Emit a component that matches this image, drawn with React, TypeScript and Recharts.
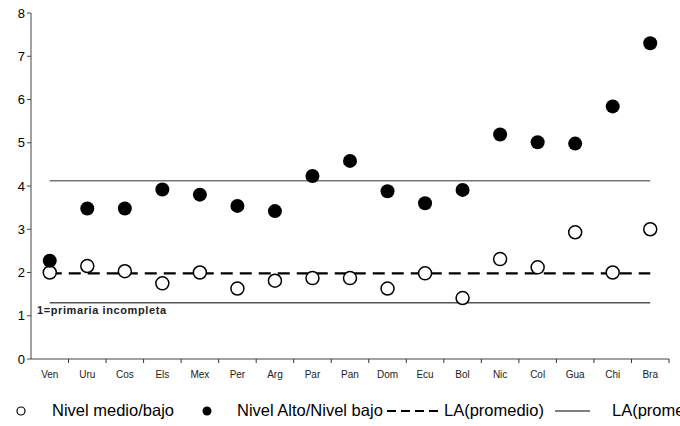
import React from "react"
import { ComposedChart, Scatter, XAxis, YAxis, ReferenceLine } from "recharts"

const paises = ["Ven", "Uru", "Cos", "Els", "Mex", "Per", "Arg", "Par", "Pan", "Dom", "Ecu", "Bol", "Nic", "Col", "Gua", "Chi", "Bra"]
const nivelMedioBajo = [2.0, 2.15, 2.03, 1.75, 2.0, 1.63, 1.81, 1.87, 1.87, 1.63, 1.98, 1.41, 2.31, 2.12, 2.93, 2.0, 3.0]
const nivelAltoBajo = [2.27, 3.48, 3.48, 3.92, 3.8, 3.54, 3.42, 4.23, 4.58, 3.88, 3.6, 3.91, 5.19, 5.01, 4.98, 5.84, 7.3]
const yTicks = [0, 1, 2, 3, 4, 5, 6, 7, 8]
const laPromedioMedio = 1.98
const laPromedioAlto = 4.12
const primariaIncompleta = 1.3

const data = paises.map((p, i) => ({ pais: p, medio: nivelMedioBajo[i], alto: nivelAltoBajo[i] }))

const font = "'Liberation Sans', Arial, sans-serif"

function XTick(props: any) {
  const { x, y, payload } = props
  const half = 638 / paises.length / 2
  return (
    <g>
      <line x1={x + half} x2={x + half} y1={y - 8} y2={y - 4} stroke="#333" />
      <text x={x} y={y + 11} textAnchor="middle" fontSize={10} fill="#222" fontFamily={font}>
        {payload.value}
      </text>
    </g>
  )
}

const openDot = (p: any) => <circle cx={p.cx} cy={p.cy} r={6.5} fill="#fff" stroke="#000" strokeWidth={1.5} />
const filledDot = (p: any) => <circle cx={p.cx} cy={p.cy} r={7} fill="#000" />

export default function App() {
  return (
    <div style={{ position: "fixed", left: 0, top: 0, width: 680, height: 426, background: "#fff", overflow: "hidden" }}>
      <ComposedChart width={680} height={426} data={data} margin={{ top: 13, right: 11, bottom: 37, left: 0 }}>
        <XAxis dataKey="pais" scale="band" height={30} tick={<XTick />} tickLine={false} axisLine={{ stroke: "#444" }} interval={0} />
        <YAxis
          domain={[0, 8]}
          ticks={yTicks}
          width={31}
          tickSize={4}
          tick={{ fontSize: 13, fill: "#000", fontFamily: font }}
          tickLine={{ stroke: "#444" }}
          axisLine={{ stroke: "#444" }}
        />
        <ReferenceLine segment={[{ x: "Ven", y: laPromedioAlto }, { x: "Bra", y: laPromedioAlto }]} stroke="#777" strokeWidth={1.5} />
        <ReferenceLine
          segment={[{ x: "Ven", y: primariaIncompleta }, { x: "Bra", y: primariaIncompleta }]}
          stroke="#555"
          strokeWidth={1.5}
          label={(lp: any) => (
            <text x={37} y={(lp.viewBox?.y ?? 303) + 11} fontSize={11} fontWeight="bold" letterSpacing={0.6} fill="#222" fontFamily={font}>
              1=primaria incompleta
            </text>
          )}
        />
        <ReferenceLine segment={[{ x: "Ven", y: laPromedioMedio }, { x: "Bra", y: laPromedioMedio }]} stroke="#000" strokeWidth={2.2} strokeDasharray="12 7" />
        <Scatter dataKey="medio" shape={openDot} isAnimationActive={false} />
        <Scatter dataKey="alto" shape={filledDot} isAnimationActive={false} />
      </ComposedChart>
      <svg width={680} height={26} style={{ position: "absolute", left: 0, top: 398 }}>
        <circle cx={21} cy={13} r={4} fill="#fff" stroke="#000" strokeWidth={1.2} />
        <text x={52} y={18} fontSize={16.5} fontFamily={font}>Nivel medio/bajo</text>
        <circle cx={207} cy={13} r={4.5} fill="#000" />
        <text x={237} y={18} fontSize={16.5} fontFamily={font}>Nivel Alto/Nivel bajo</text>
        <line x1={387} x2={440} y1={13} y2={13} stroke="#000" strokeWidth={2} strokeDasharray="9 5" />
        <text x={444} y={18} fontSize={16.5} fontFamily={font}>LA(promedio)</text>
        <line x1={555} x2={590} y1={13} y2={13} stroke="#000" strokeWidth={1} />
        <text x={612} y={18} fontSize={16.5} fontFamily={font}>LA(promedio)</text>
      </svg>
    </div>
  )
}
